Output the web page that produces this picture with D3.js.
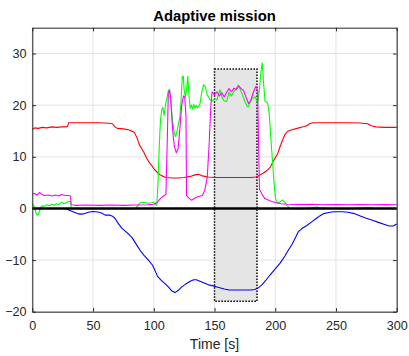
<!DOCTYPE html>
<html>
<head>
<meta charset="utf-8">
<script src="https://d3js.org/d3.v7.min.js"></script>
<style>
  body { margin: 0; background: #fff; }
  svg { display: block; font-family: "Liberation Sans", Arial, sans-serif; }
</style>
</head>
<body>
<svg width="409" height="356"></svg>
<script>
// --- data ---
var xTicks = [0, 50, 100, 150, 200, 250, 300];
var yTicks = [-20, -10, 0, 10, 20, 30];
var shadeSpan = [150, 185];   // time range of shaded window
var shadeLevels = [-18, 27];  // bottom / top of shaded window

var redT = [0,2,5,8,12,16,20,24,28,29,30,35,45,55,63,66,68,70,75,80,84,86,88,90,92,94,96,98,100,102,104,106,108,110,115,120,125,130,134,137,140,145,150,160,170,180,184,187,190,193,196,198,200,202,204,206,208,210,213,218,223,226,228,231,240,250,260,270,276,279,283,290,300];
var redV = [15.3,15.6,15.5,15.7,15.6,15.8,15.7,15.8,15.8,15.9,16.6,16.6,16.6,16.6,16.5,16.4,15.8,15.5,15.4,15.2,14.7,13.8,12.4,11.6,10.8,9.8,9.0,8.4,7.7,7.2,6.7,6.4,6.2,6.0,5.9,5.9,6.0,6.2,6.5,6.6,6.3,6.1,6.0,6.0,6.0,6.0,6.1,6.4,6.8,7.3,8.0,9.0,9.8,10.6,12.0,13.2,14.3,14.9,15.2,15.5,15.8,16.0,16.4,16.6,16.6,16.6,16.6,16.55,16.4,16.0,15.8,15.7,15.7];

var greenT = [0,1,2,3,4,5,6,7,8,10,12,14,16,18,20,22,24,26,28,30,31.5,32,40,50,60,70,80,85,87,89,92,95,98,100,101,102.5,103.5,104.5,105.5,106.5,107.5,108.5,110,111,112,113,114,115,116,117,118,119,120,121.5,122.5,123.5,124.3,125,126,127,128,129,130,131,132,133,134,135,136,137,138,139.5,141,142.5,144,146.5,148,150,152,154.5,156,158,160,162,164,166,168,169.5,171,173,175,177,178,180,182,183.5,185.5,187,188,189.3,190.5,191.6,193,193.8,195,196,197,198,199,200,200.6,202,204,206,208,209.5,211,212,220,230,235,237,245,260,270,278,282,300];
var greenV = [0.8,0.6,0.2,-0.8,-1.3,-1.2,-0.5,0.2,0.5,0.4,0.7,0.5,0.8,0.6,0.9,0.7,1.2,0.9,1.1,1.4,1.3,0.0,-0.1,0,-0.1,0,-0.1,0.0,0.6,1.1,1.2,1.0,1.1,1.2,0.8,0.6,5,12,17,19,19.6,18,20.5,21.5,22.8,23,21,18,16,14.5,13.9,14.8,16,17.7,21,25.6,25.6,23,21.5,23,25.6,22,19.4,20,19.3,20.1,19.4,20,19.5,19.8,20.2,22.5,24,23.5,22,21,20.8,21.2,21.0,23,21.6,20.8,20.7,22.5,21.8,22.7,23.2,23.9,23.2,22.0,20.7,19.7,19.8,21.0,21.5,21.6,20.3,23,26,28.2,24,20.7,20.6,20.3,18.5,15,11.5,8.5,5,2.5,1.6,1.0,1.3,1.6,1.2,0.6,0.3,0.0,-0.1,0.1,0.3,0.1,0.0,-0.1,0.05,0.2,0.0,0.0];

var magentaT = [0,2,4,6,8,10,13,16,19,22,24,27,30,31.5,32,35,45,55,65,75,85,95,100,103,105,108,110,111,112,113,114,115,116,117,118.5,120,121,122,123,124.5,125.5,126.5,127,129,131,134,137,140,142,144,145.5,147,148,150,152,154,156,158,160,162,164,166,168,170,172,174,176,178,180,182,184,185.5,186.5,187,189,191.5,195,198,201,205,210,220,230,240,250,260,270,280,290,300];
var magentaV = [2.8,2.9,2.6,3.1,2.7,2.5,2.6,2.4,2.6,2.4,2.7,2.5,2.5,2.4,0.7,0.6,0.65,0.6,0.65,0.6,0.65,0.7,0.8,1.2,1.8,2.4,2.7,12,22.5,22.9,21,17,14,12,10.8,11.5,14,17,20,21.8,21.5,18,2.5,2.0,1.6,2.0,2.3,2.5,3.5,6,12,20,22.6,22.0,22.6,21.8,22.4,21.6,22.5,23.2,22.6,23.3,23.0,23.7,23.2,22.8,21.5,20.3,21.0,22.5,23.6,23.0,10,3.7,2.8,1.9,1.55,1.3,1.1,0.9,0.8,0.75,0.8,0.7,0.75,0.7,0.75,0.7,0.75,0.7];

var blueT = [0,10,20,27,30,33,37,40,43,47,50,54,57,60,64,66,68,71,74,78,82,86,89,92,96,99,101,103,106,109,112,115,117.5,120,123,126,130,133,135,138,141,145,149,152,155,158,162,168,175,180,183,186,189,192,196,200,204,208,211,214,217,219,222,226,230,234,237,240,244,248,255,260,265,270,275,280,285,290,294,297,300];
var blueV = [0,0,0,0,-0.3,-0.6,-1.0,-1.1,-1.0,-0.7,-0.6,-0.7,-0.9,-1.3,-1.3,-1.5,-1.9,-3.0,-3.9,-4.7,-5.6,-7.1,-8.2,-9.1,-10.1,-11.0,-12.0,-13.1,-13.9,-14.5,-15.2,-16.0,-16.3,-15.9,-15.2,-14.7,-14.1,-13.8,-13.8,-14.1,-14.4,-14.8,-15.0,-15.2,-15.4,-15.6,-15.8,-15.8,-15.8,-15.8,-15.7,-15.4,-14.8,-14.0,-12.8,-11.7,-10.6,-9.2,-8.0,-6.9,-5.5,-4.5,-3.9,-3.3,-2.6,-1.9,-1.4,-1.0,-0.8,-0.65,-0.65,-0.75,-1.0,-1.45,-1.9,-2.3,-2.7,-3.1,-3.4,-3.4,-3.0];

// --- layout ---
var ink = '#262626';
var plotL = 32.3, plotR = 396.7, plotT = 27.7, plotB = 311.7;
var svg = d3.select('svg');

var x = d3.scaleLinear().domain([0, 300]).range([plotL, plotR]);
var y = d3.scaleLinear().domain([-20, 35]).range([plotB, plotT]);

// grid
svg.append('g').selectAll('line').data(xTicks).enter().append('line')
  .attr('x1', function (d) { return x(d); }).attr('x2', function (d) { return x(d); })
  .attr('y1', plotT).attr('y2', plotB)
  .attr('stroke', '#e3e3e3').attr('stroke-width', 1);
svg.append('g').selectAll('line').data(yTicks).enter().append('line')
  .attr('y1', function (d) { return y(d); }).attr('y2', function (d) { return y(d); })
  .attr('x1', plotL).attr('x2', plotR)
  .attr('stroke', '#e3e3e3').attr('stroke-width', 1);

// shaded window
svg.append('rect')
  .attr('x', x(shadeSpan[0])).attr('y', y(shadeLevels[1]))
  .attr('width', x(shadeSpan[1]) - x(shadeSpan[0]))
  .attr('height', y(shadeLevels[0]) - y(shadeLevels[1]))
  .attr('fill', '#e5e5e5')
  .attr('stroke', '#000').attr('stroke-width', 1.5)
  .attr('stroke-dasharray', '1.5,1.5');

function drawSeries(ts, vs, color) {
  var pts = ts.map(function (t, i) { return [t, vs[i]]; });
  var line = d3.line()
    .x(function (d) { return x(d[0]); })
    .y(function (d) { return y(d[1]); });
  svg.append('path').datum(pts)
    .attr('d', line)
    .attr('fill', 'none')
    .attr('stroke', color)
    .attr('stroke-width', 1.1)
    .attr('stroke-linejoin', 'round');
}

drawSeries(redT, redV, '#ff0000');
drawSeries(greenT, greenV, '#00ff00');
drawSeries(magentaT, magentaV, '#ff00ff');
drawSeries(blueT, blueV, '#0000ff');

// zero line
svg.append('line')
  .attr('x1', x(0)).attr('x2', x(300))
  .attr('y1', y(0)).attr('y2', y(0))
  .attr('stroke', '#000').attr('stroke-width', 2.6);

// axes (MATLAB-like: ticks inside, box on all sides)
function styleAxis(g) {
  g.select('.domain').attr('stroke', ink);
  g.selectAll('.tick line').attr('stroke', ink);
  g.selectAll('.tick text').attr('fill', ink).style('font-size', '12.6px');
}
svg.append('g').attr('transform', 'translate(0,' + plotB + ')')
  .call(d3.axisBottom(x).tickValues(xTicks).tickSizeInner(-3.6).tickSizeOuter(0).tickPadding(9.5))
  .call(styleAxis);
svg.append('g').attr('transform', 'translate(' + plotL + ',0)')
  .call(d3.axisLeft(y).tickValues(yTicks).tickSizeInner(-3.6).tickSizeOuter(0).tickPadding(5.8))
  .call(styleAxis);
svg.append('g').attr('transform', 'translate(0,' + plotT + ')')
  .call(d3.axisTop(x).tickValues(xTicks).tickFormat('').tickSizeInner(-3.6).tickSizeOuter(0))
  .call(styleAxis);
svg.append('g').attr('transform', 'translate(' + plotR + ',0)')
  .call(d3.axisRight(y).tickValues(yTicks).tickFormat('').tickSizeInner(-3.6).tickSizeOuter(0))
  .call(styleAxis);

// title & label
svg.append('text')
  .attr('x', (plotL + plotR) / 2).attr('y', 20.7)
  .attr('text-anchor', 'middle')
  .attr('fill', '#000')
  .style('font-size', '14.8px').style('font-weight', 'bold')
  .text('Adaptive mission');
svg.append('text')
  .attr('x', (plotL + plotR) / 2).attr('y', 349)
  .attr('text-anchor', 'middle')
  .attr('fill', ink)
  .style('font-size', '14px')
  .text('Time [s]');
</script>
</body>
</html>
